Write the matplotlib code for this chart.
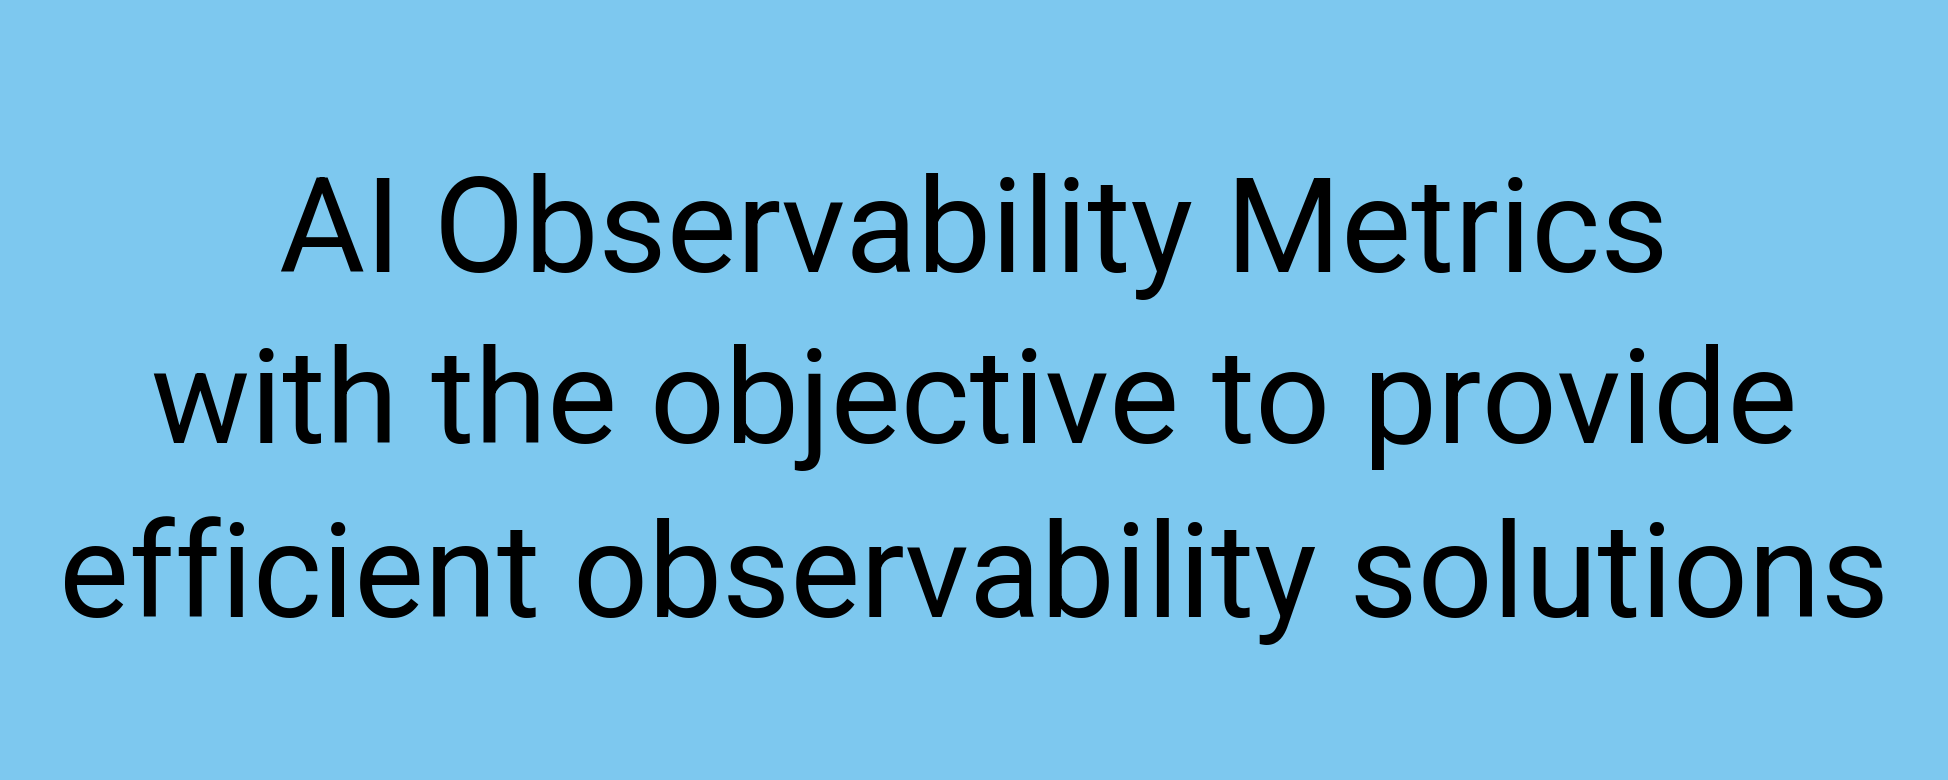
import matplotlib
matplotlib.use("Agg")
import matplotlib.pyplot as plt

BG_COLOR = "#7dc8ef"
TEXT_LINES = [
    "AI Observability Metrics",
    "with the objective to provide",
    "efficient observability solutions",
]
# baseline of each line, in pixels from top
BASELINES_PX = [272, 443, 617]

W, H = 1948, 780
fig = plt.figure(figsize=(W / 100, H / 100), dpi=100)
fig.patch.set_facecolor(BG_COLOR)

for linea, base in zip(TEXT_LINES, BASELINES_PX):
    fig.text(0.5, 1 - base / H, linea, ha="center", va="baseline",
             fontsize=95, family="Roboto", color="black")

fig.savefig("out.png", dpi=100, facecolor=BG_COLOR)
